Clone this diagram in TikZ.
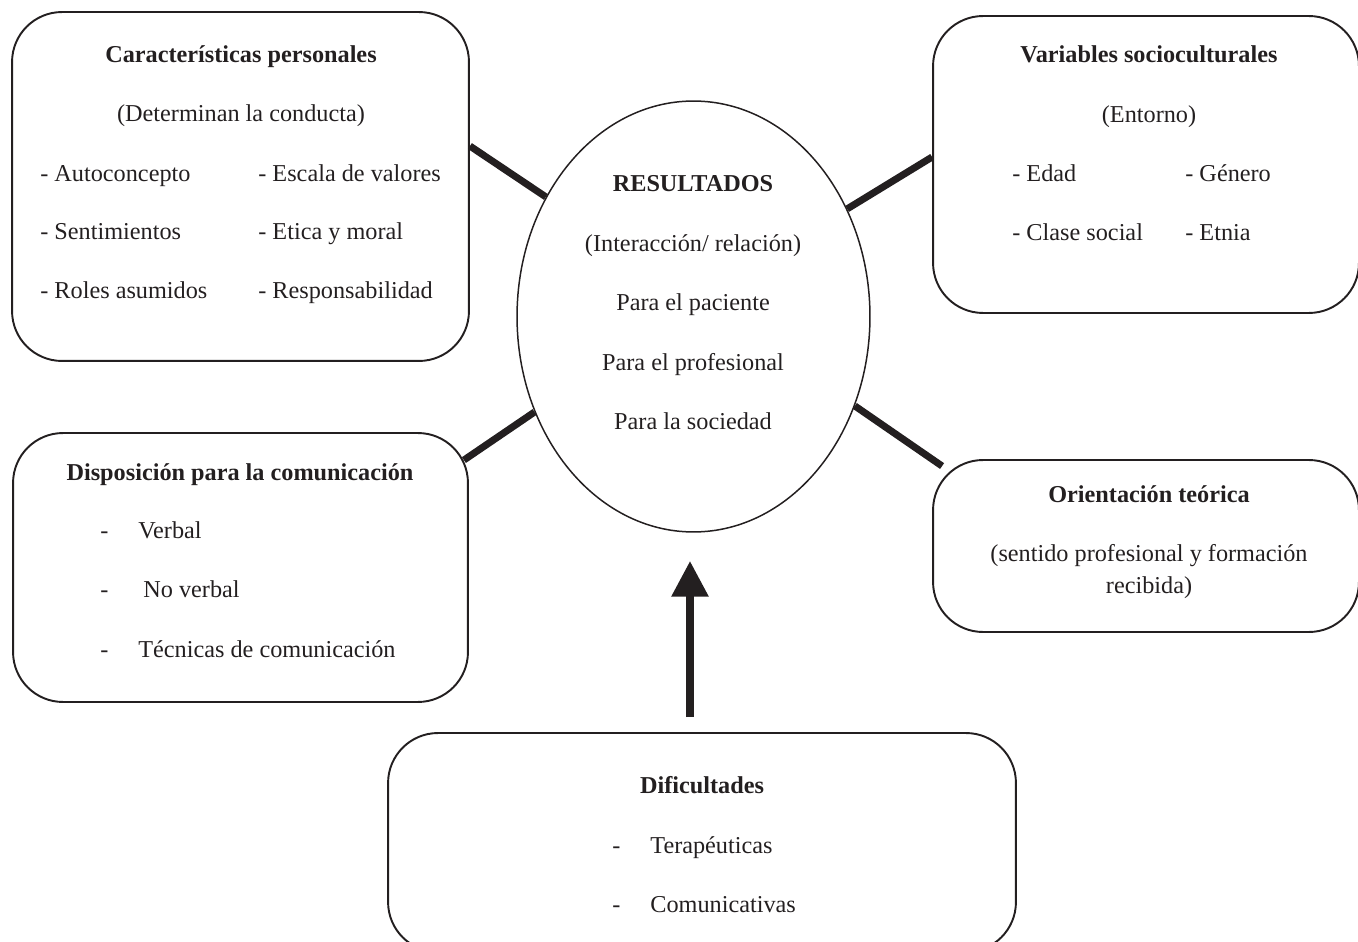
\documentclass[tikz,border=0pt]{standalone}
\usepackage{fontspec}
\setmainfont{Liberation Serif}
\usetikzlibrary{arrows.meta,calc,shapes.geometric}
\definecolor{tinta}{HTML}{231F20}

\begin{document}
\begin{tikzpicture}[x=0.02cm, y=-0.02cm, font=\fontsize{13.8}{16}\selectfont, text=tinta,
  caja/.style={draw=tinta, line width=1.1pt, rounded corners=1cm, inner sep=0pt},
  enlace/.style={draw=tinta, line width=4pt},
  flecha/.style={draw=tinta, line width=5pt, -{Triangle[length=0.72cm, width=0.7cm]}},
  tit/.style={anchor=base, inner sep=0pt, font=\fontsize{13.8}{16}\selectfont\bfseries},
  txt/.style={anchor=base, inner sep=0pt},
  item/.style={anchor=base west, inner sep=0pt}]
  \clip (0,0) rectangle (1358,942);

  % RESULTADOS — central ellipse
  \node[ellipse, draw=tinta, line width=0.85pt, minimum width=7.06cm, minimum height=8.62cm, inner sep=0pt] (res) at (693.5,316.5) {};
  \node[tit] (res-t) at (693,192) {RESULTADOS};
  \node[txt] (res-s) at (693,252) {(Interacción/ relación)};
  \foreach \y/\t in {311/Para el paciente, 370/Para el profesional, 429/Para la sociedad}
    \node[txt] (res-\y) at (693,\y) {\t};

  % CARACTERISTICAS PERSONALES
  \node[caja, minimum width=9.14cm, minimum height=6.98cm] (char) at (240.5,186.5) {};
  \node[tit] (char-t) at (241,63) {Características personales};
  \node[txt] (char-s) at (241,122) {(Determinan la conducta)};
  \foreach \y/\a/\b in {182/Autoconcepto/Escala de valores, 240/Sentimientos/Etica y moral, 298/Roles asumidos/Responsabilidad}
    {\node[item] (char-a\y) at (40,\y) {- \a};
     \node[item] (char-b\y) at (258,\y) {- \b};}

  % VARIABLES SOCIOCULTURALES
  \node[caja, minimum width=8.52cm, minimum height=5.94cm] (socio) at (1146,164.5) {};
  \node[tit] (socio-t) at (1149,63) {Variables socioculturales};
  \node[txt] (socio-s) at (1149,123) {(Entorno)};
  \foreach \y/\a/\b in {182/Edad/Género, 241/Clase social/Etnia}
    {\node[item] (socio-a\y) at (1012,\y) {- \a};
     \node[item] (socio-b\y) at (1185,\y) {- \b};}

  % DISPOSICION PARA LA COMUNICACION
  \node[caja, minimum width=9.10cm, minimum height=5.38cm] (disp) at (240.5,567.5) {};
  \node[tit] (disp-t) at (240,480) {Disposición para la comunicación};
  \foreach \y/\x/\t in {538/138/Verbal, 597/143/No verbal, 657/138/Técnicas de comunicación}
    {\node[item] (disp-g\y) at (100,\y) {-};
     \node[item] (disp-\y) at (\x,\y) {\t};}

  % ORIENTACION TEORICA
  \node[caja, minimum width=8.52cm, minimum height=3.44cm] (orient) at (1146,546) {};
  \node[tit] (orient-t) at (1149,502) {Orientación teórica};
  \node[txt] (orient-a) at (1149,561) {(sentido profesional y formación};
  \node[txt] (orient-b) at (1149,593) {recibida)};

  % DIFICULTADES
  \node[caja, minimum width=12.56cm, minimum height=4.38cm] (dif) at (702,842.5) {};
  \node[tit] (dif-t) at (702,793) {Dificultades};
  \foreach \y/\t in {853/Terapéuticas, 912/Comunicativas}
    {\node[item] (dif-g\y) at (612,\y) {-};
     \node[item] (dif-\y) at (650,\y) {\t};}

  % connectors
  \draw[enlace] (char.10) -- (res.141);
  \draw[enlace] (res.35) -- (socio.178);
  \draw[enlace] (res.211) -- ($(disp.north east)+(-5,28)$);
  \draw[enlace] (res.331) -- ($(orient.north west)+(10,7)$);
  \draw[flecha] ($(dif.north)+(-12,-15)$) -- ($(res.south)+(-3.5,28)$);
\end{tikzpicture}
\end{document}
